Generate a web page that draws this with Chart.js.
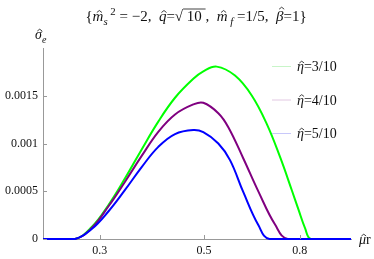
<!DOCTYPE html>
<html>
<head>
<meta charset="utf-8">
<script src="https://cdn.jsdelivr.net/npm/chart.js@4.4.1/dist/chart.umd.min.js"></script>
<style>
  body { margin: 0; background: #fff; }
  canvas { display: block; }
</style>
</head>
<body>
<canvas id="grafico" width="374" height="259"></canvas>
<script>
// dados (sigma em unidades reais)
const rotulos = ['η=3/10', 'η=4/10', 'η=5/10'];

const muVerde = [0.2271, 0.2657, 0.2884, 0.3129, 0.3396, 0.3685, 0.3998, 0.434, 0.4747, 0.4986, 0.5325, 0.5825, 0.6323, 0.6806, 0.7265, 0.7694, 0.7947, 0.8213, 0.8459, 1.029];
const sigVerde = [0, 0, 0.000125, 0.000354, 0.000635, 0.000938, 0.001229, 0.001479, 0.001677, 0.001755, 0.001805, 0.001711, 0.001503, 0.001206, 0.000859, 0.000513, 0.000313, 0.000115, 0, 0];

const muRoxo = [0.2271, 0.2657, 0.2884, 0.3129, 0.3396, 0.3685, 0.3998, 0.434, 0.4747, 0.4986, 0.5367, 0.5637, 0.6068, 0.6531, 0.7089, 0.7546, 1.029];
const sigRoxo = [0, 0, 0.000115, 0.00034, 0.0006, 0.00087, 0.001122, 0.001304, 0.001409, 0.001426, 0.001317, 0.001171, 0.000843, 0.000499, 0.000151, 0, 0];

const muAzul = [0.2271, 0.2657, 0.2884, 0.3129, 0.3396, 0.3685, 0.3998, 0.434, 0.4747, 0.4986, 0.5367, 0.5684, 0.6068, 0.6531, 0.69, 1.029];
const sigAzul = [0, 0, 0.000104, 0.000288, 0.000514, 0.000753, 0.000965, 0.001099, 0.001141, 0.001118, 0.001, 0.000826, 0.00049, 0.000146, 0, 0];

const xTicks = [0.3, 0.5, 0.8];
const xTickLabels = ['0.3', '0.5', '0.8'];
const yTicks = [0, 0.0005, 0.001, 0.0015];
const yTickLabels = ['0', '0.0005', '0.001', '0.0015'];

const serif = '"Liberation Serif", "DejaVu Serif", serif';
const pontos = (xs, ys) => xs.map((x, i) => ({ x: x, y: ys[i] }));

// texto com sub/sobrescrito: [texto, italico, deslocamento(-1 sub, 1 sup), extra]
// extra: 'o' = sobrelinha, número = altura do chapéu (fração do tamanho)
function desenhaRico(ctx, partes, x, y, tam, align) {
    const fonte = (p) => (p[1] ? 'italic ' : '') + (p[2] ? tam * 0.72 : tam) + 'px ' + serif;
    let total = 0;
    partes.forEach(p => { ctx.font = fonte(p); total += ctx.measureText(p[0]).width; });
    let cx = align === 'center' ? x - total / 2 : x;
    ctx.textBaseline = 'alphabetic';
    ctx.textAlign = 'left';
    partes.forEach(p => {
        ctx.font = fonte(p);
        const w = ctx.measureText(p[0]).width;
        const dy = p[2] === -1 ? tam * 0.25 : (p[2] === 1 ? -tam * 0.4 : 0);
        ctx.fillText(p[0], cx, y + dy);
        ctx.strokeStyle = ctx.fillStyle;
        if (p[3] === 'o') {
            ctx.beginPath();
            ctx.moveTo(cx, y - tam * 0.8);
            ctx.lineTo(cx + w, y - tam * 0.8);
            ctx.lineWidth = 0.8;
            ctx.stroke();
        } else if (typeof p[3] === 'number') {
            const h = tam * p[3];
            const mx = cx + w / 2 + h * 0.18;
            ctx.beginPath();
            ctx.moveTo(mx - tam * 0.17, y - h - 1);
            ctx.lineTo(mx, y - h - tam * 0.2);
            ctx.lineTo(mx + tam * 0.17, y - h - 1);
            ctx.lineWidth = 0.8;
            ctx.stroke();
        }
        cx += w;
    });
}

const textos = {
    id: 'textos',
    afterDraw(chart) {
        const ctx = chart.ctx;
        const area = chart.chartArea;
        ctx.save();
        ctx.fillStyle = '#111';
        // título
        desenhaRico(ctx, [
            ['{', 0, 0], ['m', 1, 0, 0.5], ['s', 1, -1], [' 2', 0, 1], [' = −2,  ', 0, 0],
            ['q', 1, 0, 0.5], ['=√', 0, 0], [' 10 ', 0, 0, 'o'], ',  ',
            ['m', 1, 0, 0.5], [' f', 1, -1], [' =1/5,  ', 0, 0],
            ['β', 1, 0, 0.72], ['=1}', 0, 0]
        ].map(p => Array.isArray(p) ? p : [p, 0, 0]), 196, 21, 15, 'center');
        // rótulos dos eixos
        desenhaRico(ctx, [['σ', 1, 0, 0.5], ['e', 1, -1]], 35, 39, 14, 'left');
        desenhaRico(ctx, [['μ', 1, 0, 0.5], ['r', 0, 0]], 359, 244, 14, 'left');

        // ticks para dentro
        ctx.strokeStyle = '#999';
        ctx.lineWidth = 1;
        const sx = chart.scales.x, sy = chart.scales.y;
        xTicks.forEach(v => {
            const px = Math.round(sx.getPixelForValue(v)) + 0.5;
            ctx.beginPath(); ctx.moveTo(px, area.bottom); ctx.lineTo(px, area.bottom - 4); ctx.stroke();
        });
        yTicks.forEach(v => {
            const py = Math.round(sy.getPixelForValue(v)) + 0.5;
            ctx.beginPath(); ctx.moveTo(area.left, py); ctx.lineTo(area.left + 4, py); ctx.stroke();
        });

        // legenda
        chart.data.datasets.forEach((ds, i) => {
            const ly = 66 + i * 33.5;
            ctx.strokeStyle = ds.corLegenda;
            ctx.lineWidth = 1;
            ctx.beginPath(); ctx.moveTo(272, ly + 0.5); ctx.lineTo(291, ly + 0.5); ctx.stroke();
            ctx.fillStyle = '#111';
            const [a, b] = ds.label.split('=');
            desenhaRico(ctx, [[a, 1, 0, 0.5], ['=' + b, 0, 0]], 297, ly + 5, 14, 'left');
        });
        ctx.restore();
    }
};

const ctx = document.getElementById('grafico').getContext('2d');
new Chart(ctx, {
    type: 'line',
    data: {
        datasets: [
            { label: rotulos[0], data: pontos(muVerde, sigVerde), borderColor: '#00ff00', corLegenda: '#c8f5c8', order: 3 },
            { label: rotulos[1], data: pontos(muRoxo, sigRoxo), borderColor: '#800080', corLegenda: '#e2c8e2', order: 2 },
            { label: rotulos[2], data: pontos(muAzul, sigAzul), borderColor: '#0000ff', corLegenda: '#c8c8fa', order: 1 }
        ].map(ds => Object.assign(ds, {
            borderWidth: 2,
            pointRadius: 0,
            fill: false,
            tension: 0.4,
            clip: 4
        }))
    },
    options: {
        responsive: false,
        animation: false,
        layout: { padding: { top: 48, right: 23, left: 0, bottom: 0 } },
        plugins: { legend: { display: false }, tooltip: { enabled: false } },
        scales: {
            x: {
                type: 'logarithmic',
                min: 0.2271,
                max: 1.029,
                afterBuildTicks: s => { s.ticks = xTicks.map(v => ({ value: v })); },
                afterFit: s => { s.height = 20; },
                grid: { display: false, tickLength: 0 },
                border: { display: true, color: '#999', width: 1 },
                ticks: {
                    callback: (v, i) => xTickLabels[i],
                    autoSkip: false,
                    maxRotation: 0,
                    padding: 5,
                    color: '#111',
                    font: { family: serif, size: 12 }
                }
            },
            y: {
                min: 0,
                max: 0.002,
                afterBuildTicks: s => { s.ticks = yTicks.map(v => ({ value: v })); },
                afterFit: s => { s.width = 43; },
                grid: { display: false, tickLength: 0 },
                border: { display: true, color: '#999', width: 1 },
                ticks: {
                    callback: (v, i) => yTickLabels[i],
                    padding: 5,
                    color: '#111',
                    font: { family: serif, size: 12 }
                }
            }
        }
    },
    plugins: [textos]
});
</script>
</body>
</html>
